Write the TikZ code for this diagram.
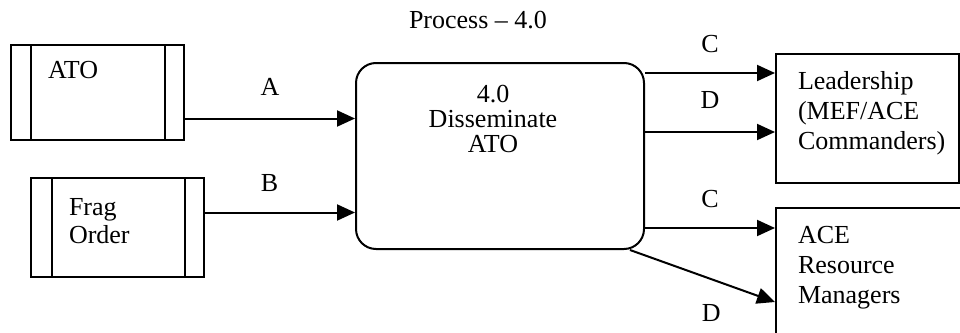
\documentclass[tikz,border=0pt]{standalone}
\usepackage{fontspec}
\setmainfont{Liberation Serif}
\usetikzlibrary{positioning,arrows.meta}

\begin{document}
\begin{tikzpicture}[x=1pt,y=-1pt,>={Triangle[length=18pt,width=16pt]},
  line width=2pt,
  every node/.style={font=\fontsize{26}{30}\selectfont},
  box/.style={draw,anchor=north west,inner sep=0pt},
  txt/.style={anchor=base west,align=left,inner sep=0pt},
  lbl/.style={anchor=base,inner sep=0pt},
  flow/.style={->}]
\useasboundingbox (0,0) rectangle (960,332);
\clip (0,0) rectangle (960,332);
% data stores
\node[box,minimum width=173pt,minimum height=95pt] (ato) at (10,44) {};
\draw ([xshift=21pt]ato.north west) -- ([xshift=21pt]ato.south west);
\draw ([xshift=-20pt]ato.north east) -- ([xshift=-20pt]ato.south east);
\node[txt] (atotxt) at (47,78) {ATO};
\node[box,minimum width=173pt,minimum height=99pt] (frag) at (30,177) {};
\draw ([xshift=22pt]frag.north west) -- ([xshift=22pt]frag.south west);
\draw ([xshift=-20pt]frag.north east) -- ([xshift=-20pt]frag.south east);
\node[txt,font=\fontsize{26}{28}\selectfont] (fragtxt) at (68,243) {Frag\\Order};
% process
\node[box,rounded corners=20pt,minimum width=288pt,minimum height=186pt] (proc) at (355,62) {};
\node[lbl,align=center,font=\fontsize{26}{25}\selectfont] (proctxt) at (493,152) {4.0\\Disseminate\\ATO};
\node[lbl] (title) at (478,28) {Process -- 4.0};
% external entities
\node[box,minimum width=183pt,minimum height=129pt] (lead) at (775,53) {};
\node[txt] (leadtxt) at (797,149) {Leadership\\(MEF/ACE\\Commanders)};
\node[box,minimum width=300pt,minimum height=200pt] (ace) at (775,207) {};
\node[txt] (acetxt) at (797,303) {ACE\\Resource\\Managers};
\coordinate (c1) at ([yshift=-20pt]lead.north west);
\coordinate (d1) at ([yshift=-79pt]lead.north west);
\coordinate (c2) at ([yshift=-21pt]ace.north west);
\coordinate (d2) at ([yshift=-95pt]ace.north west);
% flows
\draw[flow] ([yshift=-26pt]ato.east) -- ([yshift=-26pt]ato.east -| proc.west)
  node[lbl,midway,yshift=23pt] {A};
\draw[flow] ([yshift=15pt]frag.east) -- ([yshift=15pt]frag.east -| proc.west)
  node[lbl,pos=0.43,yshift=21pt] {B};
\draw[flow] (proc.east |- c1) -- (c1) node[lbl,midway,yshift=21pt] {C};
\draw[flow] (proc.east |- d1) -- (d1) node[lbl,midway,yshift=24pt] {D};
\draw[flow] (proc.east |- c2) -- (c2) node[lbl,midway,yshift=21pt] {C};
\draw[flow] ([xshift=-15pt]proc.south east) -- (d2) node[lbl,pos=0.56,yshift=-42pt] {D};
\end{tikzpicture}
\end{document}
